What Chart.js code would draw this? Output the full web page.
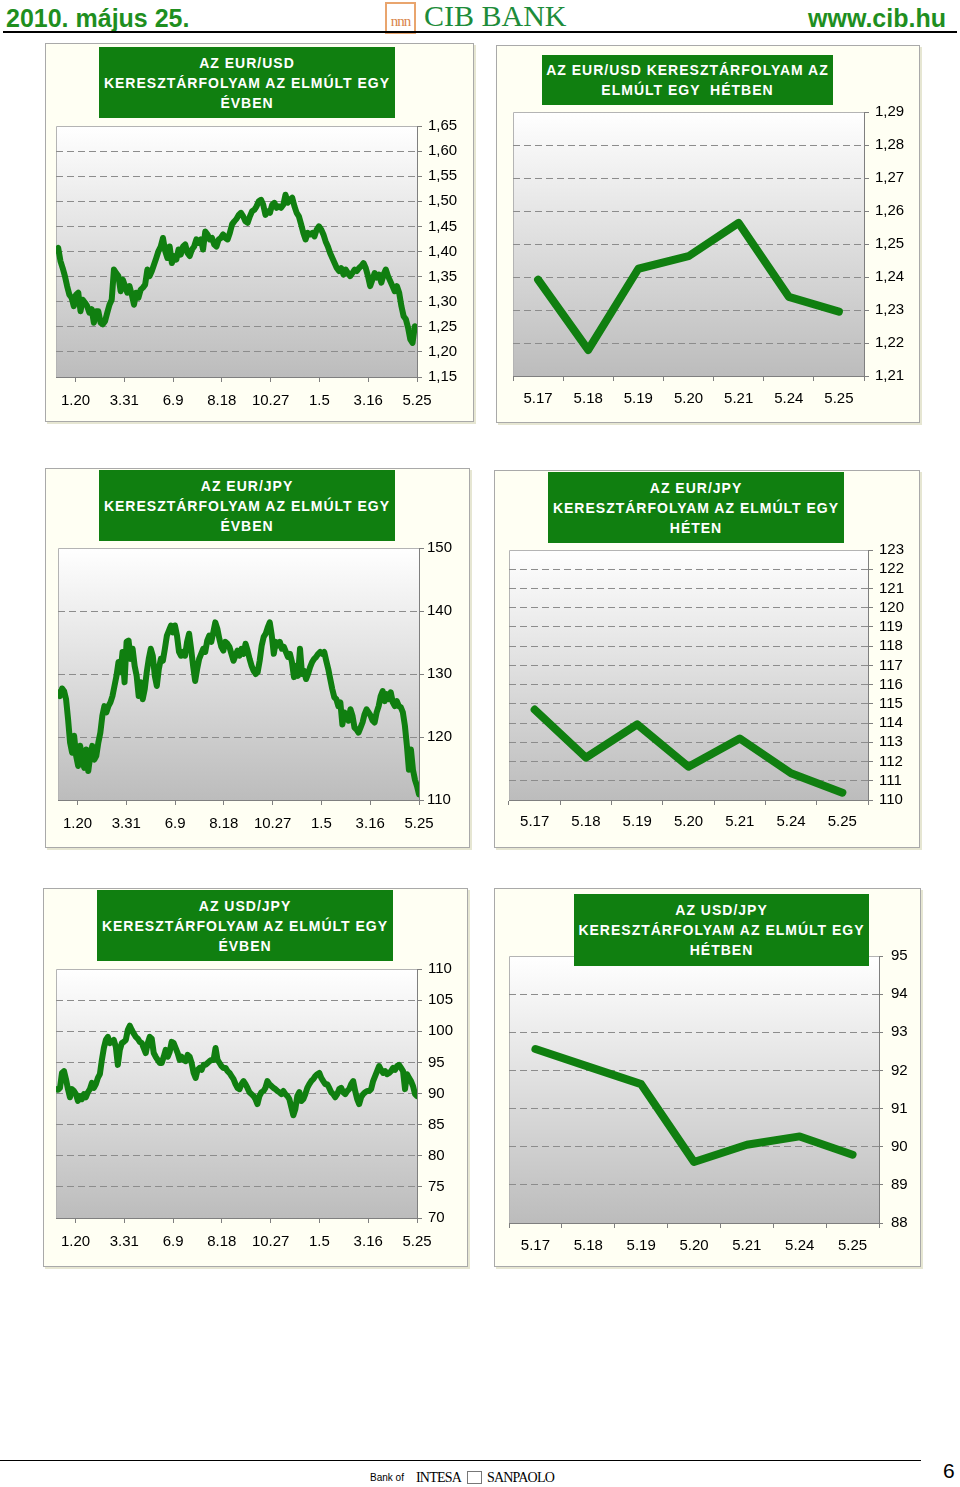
<!DOCTYPE html>
<html lang="hu">
<head>
<meta charset="utf-8">
<title>CIB BANK - árfolyamok</title>
<script src="https://cdn.jsdelivr.net/npm/chart.js@4.4.1/dist/chart.umd.min.js"></script>
<style>
    html, body { margin: 0; padding: 0; background: #fff; }
    body { width: 960px; height: 1487px; position: relative; overflow: hidden; font-family: 'Liberation Sans', Arial, sans-serif; }
    .abs { position: absolute; white-space: nowrap; }
    .hdr { font-weight: bold; font-size: 25px; line-height: 28px; color: #1f8f1f; top: 4px; }
    .rule { position: absolute; background: #000; }
    .panel { position: absolute; background: #fffff3; box-shadow: 0 0 0 1px #a9a9a9, 2px 2px 0 1px #e6e6d2; }
    .panel canvas { position: absolute; left: 0; top: 0; }
    .title { position: absolute; background: #107f10; color: #fff; font-weight: bold; font-size: 14px; letter-spacing: 1px;
             line-height: 20px; text-align: center; display: flex; flex-direction: column; justify-content: center; }
    .logo { left: 385px; top: 2px; width: 27px; height: 28px; border: 2px solid #e9a56e; color: #d9854a;
            font: 15px 'Liberation Serif', serif; text-align: center; line-height: 34px; letter-spacing: -1px; }
    .bank { font: 14px 'Liberation Serif', serif; letter-spacing: -0.8px; top: 1470px; }
</style>
</head>
<body>

<!-- header -->
<div class="abs hdr" style="left:6px">2010. május 25.</div>
<div class="abs logo">nnn</div>
<div class="abs" style="left:424px; top:-1px; font:30px 'Liberation Serif', serif; color:#1d8c3a">CIB BANK</div>
<div class="abs hdr" style="left:808px">www.cib.hu</div>
<div class="rule" style="left:3px; top:31px; width:954px; height:2px"></div>

<!-- footer -->
<div class="rule" style="left:0; top:1460px; width:921px; height:1px"></div>
<div class="abs" style="left:370px; top:1472px; font-size:10px">Bank of</div>
<div class="abs bank" style="left:416px">INTESA</div>
<div class="abs" style="left:467px; top:1471px; width:13px; height:11px; border:1px solid #777"></div>
<div class="abs bank" style="left:487px">SANPAOLO</div>
<div class="abs" style="left:943px; top:1459px; font-size:21px">6</div>

<script>
// x axis of the yearly charts (trading days from the first sample)
const yearTickLabels = ['1.20', '3.31', '6.9', '8.18', '10.27', '1.5', '3.16', '5.25'];
const yearTickDays = [20, 70, 120, 170, 220, 270, 320, 370];
const yearSpanDays = 370;

// x axis of the weekly charts
const weekDays = ['5.17', '5.18', '5.19', '5.20', '5.21', '5.24', '5.25'];

// EUR/USD
const eurUsdYear = [
    1.402, 1.407, 1.381, 1.367, 1.351, 1.331, 1.314, 1.308, 1.291, 1.314,
    1.318, 1.281, 1.304, 1.298, 1.291, 1.278, 1.285, 1.258, 1.281, 1.281,
    1.258, 1.255, 1.261, 1.278, 1.294, 1.304, 1.364, 1.357, 1.351, 1.321,
    1.344, 1.331, 1.318, 1.331, 1.314, 1.294, 1.318, 1.308, 1.324, 1.328,
    1.334, 1.364, 1.351, 1.361, 1.374, 1.387, 1.401, 1.410, 1.427, 1.401,
    1.387, 1.410, 1.377, 1.391, 1.384, 1.404, 1.394, 1.410, 1.414, 1.397,
    1.391, 1.404, 1.410, 1.424, 1.417, 1.424, 1.404, 1.440, 1.434, 1.424,
    1.427, 1.414, 1.410, 1.424, 1.427, 1.434, 1.427, 1.424, 1.437, 1.454,
    1.460, 1.465, 1.473, 1.477, 1.470, 1.460, 1.457, 1.470, 1.480, 1.483,
    1.490, 1.500, 1.503, 1.493, 1.473, 1.480, 1.477, 1.493, 1.497, 1.487,
    1.490, 1.487, 1.493, 1.513, 1.497, 1.503, 1.507, 1.490, 1.477, 1.470,
    1.454, 1.437, 1.424, 1.437, 1.434, 1.437, 1.430, 1.444, 1.450, 1.444,
    1.434, 1.420, 1.410, 1.397, 1.387, 1.377, 1.367, 1.361, 1.367, 1.354,
    1.364, 1.357, 1.351, 1.357, 1.364, 1.361, 1.367, 1.371, 1.377, 1.367,
    1.351, 1.331, 1.344, 1.357, 1.348, 1.354, 1.338, 1.354, 1.364, 1.351,
    1.341, 1.331, 1.321, 1.331, 1.318, 1.291, 1.271, 1.265, 1.248, 1.225,
    1.218, 1.251, 1.245
];
const eurUsdWeek = [1.2392, 1.2179, 1.2425, 1.2463, 1.2564, 1.2340, 1.2295];
const eurUsdYearTicks = [1.15, 1.20, 1.25, 1.30, 1.35, 1.40, 1.45, 1.50, 1.55, 1.60, 1.65];
const eurUsdWeekTicks = [1.21, 1.22, 1.23, 1.24, 1.25, 1.26, 1.27, 1.28, 1.29];

// EUR/JPY
const eurJpyYear = [
    127.1, 126.5, 127.7, 127.3, 126.0, 122.8, 119.1, 117.5, 120.2, 117.0,
    115.4, 118.6, 116.4, 115.1, 118.0, 114.6, 117.0, 118.6, 116.4, 117.0,
    119.1, 120.7, 123.4, 124.9, 123.9, 124.9, 125.5, 126.5, 128.1, 129.7,
    131.9, 130.3, 133.5, 128.7, 135.1, 135.3, 132.4, 134.0, 131.3, 129.7,
    126.5, 128.7, 126.0, 127.6, 130.3, 132.4, 134.0, 132.9, 129.7, 128.1,
    130.8, 132.4, 132.1, 134.0, 136.1, 136.9, 137.7, 136.6, 137.7, 136.1,
    133.5, 132.9, 133.5, 132.9, 135.1, 136.4, 134.0, 131.3, 128.9, 130.8,
    132.4, 133.2, 134.0, 133.5, 135.3, 136.1, 135.1, 136.6, 138.2, 137.2,
    135.6, 134.3, 133.7, 135.1, 134.8, 134.3, 133.2, 132.1, 132.9, 133.7,
    132.9, 134.0, 133.2, 134.8, 133.7, 132.4, 131.3, 130.5, 130.0, 130.3,
    132.1, 134.5, 135.9, 136.4, 137.4, 138.2, 136.1, 133.2, 135.1, 134.5,
    135.1, 134.0, 134.3, 133.5, 132.7, 133.2, 131.9, 129.5, 131.3, 129.7,
    134.0, 130.0, 130.5, 129.2, 130.0, 131.1, 131.9, 132.4, 132.7, 133.2,
    133.5, 133.2, 133.5, 132.1, 130.8, 129.2, 127.6, 126.3, 126.0, 124.9,
    125.5, 122.0, 123.9, 123.1, 122.6, 124.4, 123.4, 121.5, 121.2, 120.7,
    121.5, 122.3, 123.6, 124.4, 123.9, 123.4, 122.6, 122.3, 123.9, 124.9,
    126.5, 127.3, 125.7, 126.8, 126.0, 127.1, 125.5, 124.9, 125.7, 124.9,
    124.7, 123.9, 121.8, 118.6, 114.8, 118.0, 114.8, 113.2, 112.2, 110.9
];
const eurJpyWeek = [114.70, 112.20, 113.93, 111.73, 113.20, 111.39, 110.38];
const eurJpyYearTicks = [110, 120, 130, 140, 150];
const eurJpyWeekTicks = [110, 111, 112, 113, 114, 115, 116, 117, 118, 119, 120, 121, 122, 123];

// USD/JPY
const usdJpyYear = [
    90.7, 90.6, 90.9, 93.3, 93.6, 92.3, 90.7, 89.4, 90.7, 90.4,
    89.9, 88.8, 89.6, 89.1, 89.9, 89.4, 90.2, 90.7, 91.7, 90.9,
    91.5, 92.5, 93.1, 95.4, 97.3, 98.6, 99.1, 98.1, 98.3, 98.6,
    97.5, 94.6, 97.0, 98.1, 98.3, 98.6, 100.2, 100.9, 100.2, 99.6,
    99.1, 98.8, 98.3, 98.1, 97.3, 96.5, 98.1, 99.1, 98.8, 96.5,
    95.9, 95.4, 94.9, 94.9, 95.9, 97.0, 95.9, 96.7, 98.3, 98.1,
    97.3, 96.5, 95.4, 95.9, 95.4, 95.2, 96.2, 95.9, 94.9, 93.3,
    92.5, 93.8, 94.1, 93.8, 94.6, 94.6, 94.9, 95.2, 95.4, 95.4,
    97.3, 95.4, 94.9, 94.4, 94.1, 94.1, 93.6, 93.3, 92.8, 92.3,
    91.5, 90.9, 90.7, 91.5, 92.0, 91.5, 90.9, 90.2, 89.9, 89.6,
    89.1, 88.3, 89.6, 90.2, 90.4, 90.9, 92.0, 91.5, 91.2, 90.9,
    90.7, 90.4, 90.2, 89.9, 90.4, 89.9, 89.6, 89.1, 87.8, 86.5,
    87.5, 89.6, 90.2, 88.8, 89.1, 89.9, 90.9, 91.5, 92.0, 92.3,
    92.8, 93.1, 93.3, 92.5, 92.0, 91.5, 91.5, 90.9, 90.2, 89.9,
    89.4, 89.9, 90.7, 90.9, 90.2, 89.9, 90.4, 90.7, 91.5, 92.0,
    90.4, 89.1, 88.3, 89.4, 89.9, 90.2, 90.4, 90.4, 90.7, 92.0,
    92.8, 93.6, 94.4, 93.8, 93.3, 93.6, 93.1, 93.3, 93.6, 94.1,
    93.8, 94.4, 94.6, 94.1, 93.6, 90.7, 93.1, 92.5, 92.0, 91.2,
    89.9, 89.6
];
const usdJpyWeek = [92.56, 92.10, 91.64, 89.60, 90.05, 90.27, 89.79];
const usdJpyYearTicks = [70, 75, 80, 85, 90, 95, 100, 105, 110];
const usdJpyWeekTicks = [88, 89, 90, 91, 92, 93, 94, 95];

const commaTwo = v => v.toFixed(2).replace('.', ',');
const whole = v => String(Math.round(v));

Chart.defaults.font.family = "'Liberation Sans', Arial, sans-serif";
Chart.defaults.font.size = 15;
Chart.defaults.color = '#000';

const LINE_GREEN = '#107f10';
const GRID_GREY = '#8c8c8c';
const AXIS_GREY = '#7f7f7f';

// gradient plot area with a light frame on the left and top
const plotBackground = {
    id: 'plotBackground',
    beforeDraw(chart) {
        const { ctx, chartArea: a } = chart;
        const g = ctx.createLinearGradient(0, a.top, 0, a.bottom);
        g.addColorStop(0, '#ffffff');
        g.addColorStop(1, '#bcbcbc');
        ctx.save();
        ctx.fillStyle = g;
        ctx.fillRect(a.left, a.top, a.right - a.left, a.bottom - a.top);
        ctx.strokeStyle = '#b4b4b4';
        ctx.lineWidth = 1;
        ctx.beginPath();
        ctx.moveTo(a.left + 0.5, a.bottom);
        ctx.lineTo(a.left + 0.5, a.top + 0.5);
        ctx.lineTo(a.right, a.top + 0.5);
        ctx.stroke();
        ctx.restore();
    }
};

// panel geometry: [left, top, right, bottom] in page pixels
const panels = [
    { box: [46, 44, 473, 421], plot: [56, 126, 417, 377], titleBox: [99, 47, 395, 118],
      title: ['AZ EUR/USD', 'KERESZTÁRFOLYAM AZ ELMÚLT EGY', 'ÉVBEN'],
      values: eurUsdYear, yTicks: eurUsdYearTicks, fmt: commaTwo, year: true, lineWidth: 6,
      xPad: 10, yTick: 5, yPad: 6 },
    { box: [497, 46, 919, 422], plot: [513, 112, 864, 376], titleBox: [542, 55, 833, 105],
      title: ['AZ EUR/USD KERESZTÁRFOLYAM AZ', 'ELMÚLT EGY  HÉTBEN'],
      values: eurUsdWeek, yTicks: eurUsdWeekTicks, fmt: commaTwo, year: false, lineWidth: 8,
      xPad: 9, yTick: 5, yPad: 6 },
    { box: [46, 469, 469, 847], plot: [58, 548, 419, 800], titleBox: [99, 470, 395, 541],
      title: ['AZ EUR/JPY', 'KERESZTÁRFOLYAM AZ ELMÚLT EGY', 'ÉVBEN'],
      values: eurJpyYear, yTicks: eurJpyYearTicks, fmt: whole, year: true, lineWidth: 6,
      xPad: 10, yTick: 5, yPad: 3 },
    { box: [495, 471, 919, 847], plot: [509, 550, 868, 800], titleBox: [548, 472, 844, 543],
      title: ['AZ EUR/JPY', 'KERESZTÁRFOLYAM AZ ELMÚLT EGY', 'HÉTEN'],
      values: eurJpyWeek, yTicks: eurJpyWeekTicks, fmt: whole, year: false, lineWidth: 8,
      xPad: 8, yTick: 5, yPad: 6 },
    { box: [44, 889, 467, 1266], plot: [56, 969, 417, 1218], titleBox: [97, 890, 393, 961],
      title: ['AZ USD/JPY', 'KERESZTÁRFOLYAM AZ ELMÚLT EGY', 'ÉVBEN'],
      values: usdJpyYear, yTicks: usdJpyYearTicks, fmt: whole, year: true, lineWidth: 6,
      xPad: 10, yTick: 5, yPad: 6 },
    { box: [495, 889, 920, 1266], plot: [509, 956, 879, 1223], titleBox: [574, 894, 869, 966],
      title: ['AZ USD/JPY', 'KERESZTÁRFOLYAM AZ ELMÚLT EGY', 'HÉTBEN'],
      values: usdJpyWeek, yTicks: usdJpyWeekTicks, fmt: whole, year: false, lineWidth: 8,
      xPad: 9, yTick: 4, yPad: 8 }
];

function fixSize(size, vertical) {
    return s => {
        if (vertical) s.width = size; else s.height = size;
        s.paddingLeft = s.paddingRight = s.paddingTop = s.paddingBottom = 0;
    };
}

function buildPanel(p) {
    const [bl, bt, br, bb] = p.box;
    const [pl, pt, pr, pb] = p.plot;
    const [tl, tt, tr, tb] = p.titleBox;

    const panel = document.createElement('div');
    panel.className = 'panel';
    panel.style.cssText = `left:${bl}px;top:${bt}px;width:${br - bl}px;height:${bb - bt}px`;
    const canvas = document.createElement('canvas');
    canvas.width = br - bl;
    canvas.height = bb - bt;
    panel.appendChild(canvas);
    const title = document.createElement('div');
    title.className = 'title';
    title.style.cssText = `left:${tl - bl}px;top:${tt - bt}px;width:${tr - tl}px;height:${tb - tt}px`;
    title.innerHTML = p.title.map(t => `<span>${t.replace(/  /g, ' &nbsp;')}</span>`).join('');
    panel.appendChild(title);
    document.body.appendChild(panel);

    const last = p.yTicks.length - 1;
    let xScale, data;
    if (p.year) {
        const n = p.values.length;
        data = p.values.map((v, i) => ({ x: i * yearSpanDays / (n - 1), y: v }));
        xScale = {
            type: 'linear', min: 0, max: yearSpanDays,
            afterBuildTicks: s => { s.ticks = yearTickDays.map(v => ({ value: v })); },
            ticks: { callback: (v, i) => yearTickLabels[i] }
        };
    } else {
        data = p.values;
        xScale = { type: 'category', labels: weekDays, offset: true };
    }
    Object.assign(xScale, {
        afterFit: fixSize(bb - pb, false),
        grid: { offset: !p.year, drawOnChartArea: false, drawTicks: true, tickLength: 5, tickColor: AXIS_GREY },
        border: { color: AXIS_GREY, width: 1 }
    });
    xScale.ticks = Object.assign(xScale.ticks || {}, { padding: p.xPad, maxRotation: 0, autoSkip: false });

    new Chart(canvas, {
        type: 'line',
        data: {
            datasets: [{
                data: data,
                borderColor: LINE_GREEN,
                borderWidth: p.lineWidth,
                borderJoinStyle: 'round',
                borderCapStyle: 'round',
                pointRadius: 0,
                tension: 0
            }]
        },
        options: {
            responsive: false,
            animation: false,
            devicePixelRatio: 1,
            layout: { padding: { left: pl - bl, top: pt - bt, right: 0, bottom: 0 } },
            plugins: { legend: { display: false }, tooltip: { enabled: false } },
            scales: {
                x: xScale,
                y: {
                    position: 'right',
                    min: p.yTicks[0],
                    max: p.yTicks[last],
                    afterBuildTicks: s => { s.ticks = p.yTicks.map(v => ({ value: v })); },
                    afterFit: fixSize(br - pr, true),
                    ticks: { callback: v => p.fmt(v), padding: p.yPad, autoSkip: false },
                    grid: {
                        color: c => (c.index === 0 || c.index === last) ? 'rgba(0,0,0,0)' : GRID_GREY,
                        tickColor: AXIS_GREY,
                        tickLength: p.yTick,
                        lineWidth: 1
                    },
                    border: { color: AXIS_GREY, width: 1, dash: [7, 4] }
                }
            }
        },
        plugins: [plotBackground]
    });
}

panels.forEach(buildPanel);
</script>
</body>
</html>
